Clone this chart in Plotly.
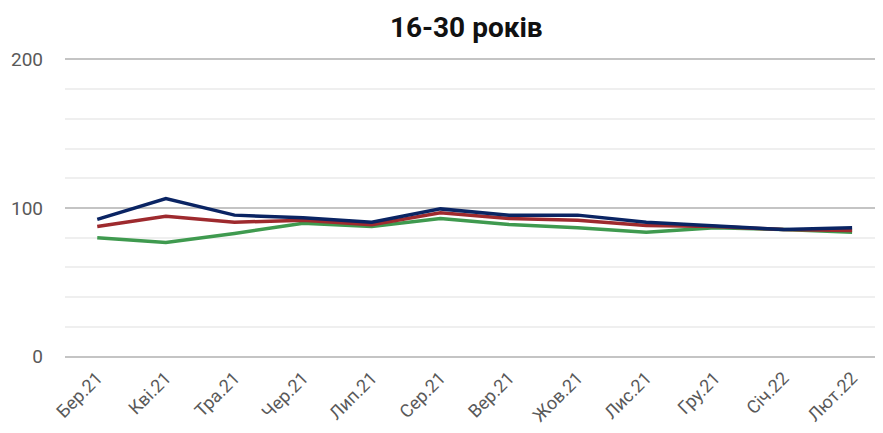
import plotly.graph_objs as go

months = ['Бер.21', 'Кві.21', 'Тра.21', 'Чер.21', 'Лип.21', 'Сер.21',
          'Вер.21', 'Жов.21', 'Лис.21', 'Гру.21', 'Січ.22', 'Лют.22']

blue_vals = [92.3, 106.4, 95.2, 93.4, 90.4, 99.4, 95.2, 95.2, 90.4, 88.2, 85.5, 86.7]
red_vals = [87.5, 94.5, 90.4, 91.8, 88.7, 96.8, 92.9, 91.8, 88.2, 87.5, 85.5, 84.8]
green_vals = [79.9, 76.8, 82.8, 89.8, 87.5, 92.9, 88.9, 86.7, 83.7, 86.7, 85.5, 83.7]

y_ticks = [0, 100, 200]

font = 'Roboto'

fig = go.Figure(
    data=[
        go.Scatter(x=months, y=green_vals, mode='lines', name='green',
                   line=dict(color='#3f9a4f', width=3.5)),
        go.Scatter(x=months, y=red_vals, mode='lines', name='red',
                   line=dict(color='#9e2a2e', width=3.5)),
        go.Scatter(x=months, y=blue_vals, mode='lines', name='blue',
                   line=dict(color='#0a2463', width=3.5)),
    ]
)

# page body adds ~8px offset, margins compensate for it
fig.update_layout(
    width=883, height=433,
    margin=dict(l=57, r=8, t=50, b=83),
    paper_bgcolor='white', plot_bgcolor='white',
    showlegend=False,
    title=dict(text='<b>16-30 років</b>', x=0.519, xanchor='center',
               y=0.955, yanchor='middle',
               font=dict(family=font, size=28, color='#111111')),
    font=dict(family=font),
)

fig.update_xaxes(
    type='category',
    range=[-0.47, 11.45],
    tickangle=-45,
    tickfont=dict(size=18, color='#595959'),
    ticklabelstandoff=5,
    showgrid=False, zeroline=False, showline=False,
    ticks='', automargin=False,
)

fig.update_yaxes(
    range=[-1, 201],
    tickvals=y_ticks,
    tickfont=dict(size=19, color='#595959'),
    ticklabelstandoff=21,
    showgrid=True, gridcolor='#c4c4c4', gridwidth=2,
    minor=dict(tickvals=[20, 40, 60, 80, 120, 140, 160, 180],
               showgrid=True, gridcolor='#efefef', gridwidth=2),
    zeroline=False, showline=False, automargin=False,
)

fig.write_html("out.html")
